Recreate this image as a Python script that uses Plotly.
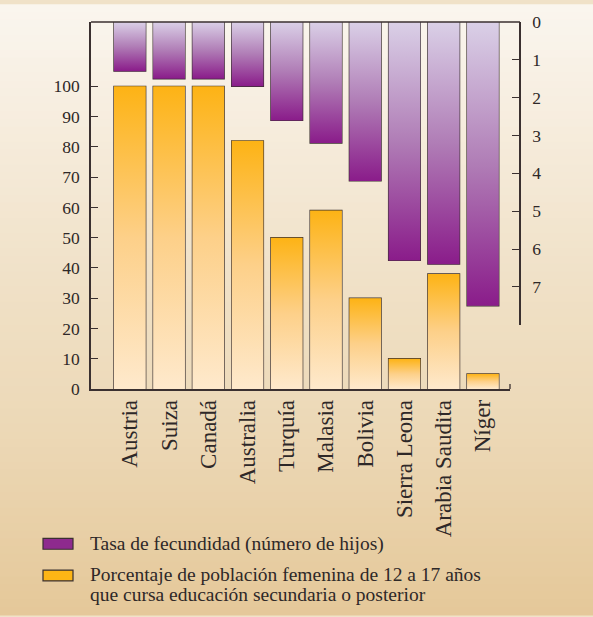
import plotly.graph_objects as go

# ---------------- data ----------------
countries = ["Austria", "Suiza", "Canadá", "Australia", "Turquía", "Malasia",
             "Bolivia", "Sierra Leona", "Arabia Saudita", "Níger"]
education_pct = [100, 100, 100, 82, 50, 59, 30, 10, 38, 5]
fertility = [1.3, 1.5, 1.5, 1.7, 2.6, 3.2, 4.2, 6.3, 6.4, 7.5]
left_ticks = [0, 10, 20, 30, 40, 50, 60, 70, 80, 90, 100]
right_ticks = [0, 1, 2, 3, 4, 5, 6, 7, 8]
right_ticktext = ["0", "1", "2", "3", "4", "5", "6", "7", ""]
legend_fert = "Tasa de fecundidad (número de hijos)"
legend_edu_1 = "Porcentaje de población femenina de 12 a 17 años"
legend_edu_2 = "que cursa educación secundaria o posterior"

# ---------------- styling ----------------
W, H = 593, 617
L, R, T, B = 91, 520, 18, 389          # plot area in px
FONT = "Liberation Serif"
TXT = "#2e2828"
EDGE = "#3a3030"
BAR_W = 0.81
ORANGE_SCALE = [[0, "#fee9cc"], [0.5, "#fdd089"], [1, "#fdb315"]]
PURPLE_SCALE = [[0, "#8a1c8a"], [0.5, "#b07db6"], [1, "#dad0e7"]]


def px(x):
    return (x - L) / (R - L)


def py(y):
    return (B - y) / (B - T)


idx = list(range(len(countries)))
fig = go.Figure()

# gradient fills (built from the data arrays)
for i, v in zip(idx, education_pct):
    fig.add_trace(go.Scatter(
        x=[i - BAR_W / 2, i - BAR_W / 2, i + BAR_W / 2, i + BAR_W / 2, i - BAR_W / 2],
        y=[0, v, v, 0, 0], fill="toself", mode="none", showlegend=False,
        hoverinfo="skip", fillgradient=dict(type="vertical", colorscale=ORANGE_SCALE),
        xaxis="x", yaxis="y"))
for i, v in zip(idx, fertility):
    fig.add_trace(go.Scatter(
        x=[i - BAR_W / 2, i - BAR_W / 2, i + BAR_W / 2, i + BAR_W / 2, i - BAR_W / 2],
        y=[0, v, v, 0, 0], fill="toself", mode="none", showlegend=False,
        hoverinfo="skip", fillgradient=dict(type="vertical", colorscale=PURPLE_SCALE),
        xaxis="x", yaxis="y2"))

# bars (outlines)
fig.add_trace(go.Bar(x=idx, y=education_pct, width=BAR_W, name=legend_edu_1,
                     marker=dict(color="rgba(0,0,0,0)", line=dict(color=EDGE, width=1.3)),
                     xaxis="x", yaxis="y", showlegend=False))
fig.add_trace(go.Bar(x=idx, y=fertility, width=BAR_W, name=legend_fert,
                     marker=dict(color="rgba(0,0,0,0)", line=dict(color=EDGE, width=1.3)),
                     xaxis="x", yaxis="y2", showlegend=False))

# background gradient
stops = [(0.0, (250, 246, 239)), (0.12, (248, 240, 228)), (0.45, (240, 225, 199)),
         (0.7, (236, 216, 182)), (1.0, (229, 200, 153))]


def bg(t):
    for (t0, c0), (t1, c1) in zip(stops[:-1], stops[1:]):
        if t0 <= t <= t1:
            f = (t - t0) / (t1 - t0)
            return "rgb(%d,%d,%d)" % tuple(round(a + (b - a) * f) for a, b in zip(c0, c1))
    return "rgb(%d,%d,%d)" % stops[-1][1]


shapes = []
N = 80
for k in range(N):
    y0 = H * k / N
    y1 = H * (k + 1) / N + 1
    shapes.append(dict(type="rect", xref="paper", yref="paper", layer="below",
                       x0=px(-2), x1=px(W + 2), y0=py(y0), y1=py(y1),
                       fillcolor=bg((k + 0.5) / N), line=dict(width=0)))

# top frame line and small end tick of the base line
shapes.append(dict(type="line", xref="paper", yref="paper", x0=0, x1=1, y0=1, y1=1,
                   line=dict(color=EDGE, width=1.5)))
shapes.append(dict(type="line", xref="paper", yref="paper", x0=px(510), x1=px(510),
                   y0=0, y1=py(384), line=dict(color=EDGE, width=1.3)))

# legend swatches
shapes.append(dict(type="rect", xref="paper", yref="paper", x0=px(43), x1=px(73),
                   y0=py(551), y1=py(540), fillcolor="#8e2a8e", line=dict(color=EDGE, width=1.2)))
shapes.append(dict(type="rect", xref="paper", yref="paper", x0=px(43), x1=px(73),
                   y0=py(583), y1=py(572), fillcolor="#fdb515", line=dict(color=EDGE, width=1.2)))

annotations = [
    dict(text=legend_fert, x=px(88), y=py(546), xref="paper", yref="paper",
         xanchor="left", yanchor="middle", showarrow=False,
         font=dict(family=FONT, size=19.5, color=TXT)),
    dict(text=legend_edu_1, x=px(88), y=py(577), xref="paper", yref="paper",
         xanchor="left", yanchor="middle", showarrow=False,
         font=dict(family=FONT, size=19.5, color=TXT)),
    dict(text=legend_edu_2, x=px(88), y=py(597), xref="paper", yref="paper",
         xanchor="left", yanchor="middle", showarrow=False,
         font=dict(family=FONT, size=19.5, color=TXT)),
]

fig.update_layout(
    width=W, height=H,
    margin=dict(l=L, r=W - R, t=T, b=H - B),
    paper_bgcolor="#f0e2c8", plot_bgcolor="rgba(0,0,0,0)",
    barmode="overlay", showlegend=False,
    shapes=shapes, annotations=annotations,
    font=dict(family=FONT, color=TXT),
    xaxis=dict(domain=[0, (510 - L) / (R - L)], range=[-0.99, 9.69],
               tickvals=idx, ticktext=countries, tickangle=-90,
               tickfont=dict(family=FONT, size=23, color=TXT),
               showline=True, linecolor=EDGE, linewidth=1.5, ticks="",
               showgrid=False, zeroline=False, fixedrange=True),
    yaxis=dict(domain=[0, 1], range=[0, (B - T) / 3.06], tickvals=left_ticks,
               ticks="inside", ticklen=7, tickcolor=EDGE, tickwidth=1.3,
               ticklabelstandoff=6,
               tickfont=dict(family=FONT, size=17.5, color=TXT),
               showline=True, linecolor=EDGE, linewidth=1.5,
               showgrid=False, zeroline=False),
    yaxis2=dict(domain=[py(324), 1], range=[8, 0], anchor="free", position=1,
                side="right", tickvals=right_ticks, ticktext=right_ticktext,
                ticks="inside", ticklen=7, tickcolor=EDGE, tickwidth=1.3,
                ticklabelstandoff=8,
                tickfont=dict(family=FONT, size=17.5, color=TXT),
                showline=True, linecolor=EDGE, linewidth=1.5,
                showgrid=False, zeroline=False),
)

fig.write_html("out.html", config={"displayModeBar": False},
               post_script="document.body.style.margin='0px';document.body.style.overflow='hidden';")
